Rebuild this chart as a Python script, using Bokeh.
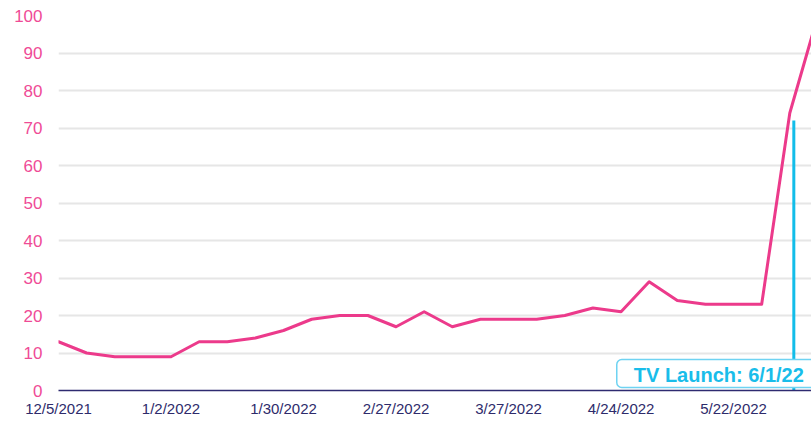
import pandas as pd
from bokeh.plotting import figure
from bokeh.models import Range1d, FixedTicker, Label, BoxAnnotation
from bokeh.embed import file_html
from bokeh.resources import INLINE

# ---- data ----
weeks = pd.date_range("2021-12-05", periods=28, freq="7D")
interest = [13, 10, 9, 9, 9, 13, 13, 14, 16, 19, 20, 20, 17, 21, 17, 19,
            19, 19, 20, 22, 21, 29, 24, 23, 23, 23, 74, 100]
tick_dates = ["2021-12-05", "2022-01-02", "2022-01-30", "2022-02-27",
              "2022-03-27", "2022-04-24", "2022-05-22"]
tick_labels = ["12/5/2021", "1/2/2022", "1/30/2022", "2/27/2022",
               "3/27/2022", "4/24/2022", "5/22/2022"]
y_ticks = [0, 10, 20, 30, 40, 50, 60, 70, 80, 90, 100]
launch_date = "2022-06-06"
launch_value = 72
launch_text = "TV Launch: 6/1/22"


def ms(d):
    return pd.Timestamp(d).value / 1e6


DAY = 86400000.0
x_start = ms(weeks[0])
x_end = x_start + 187.4 * DAY

p = figure(width=811, height=421, output_backend="svg", toolbar_location=None,
           x_axis_type="datetime",
           x_range=Range1d(x_start, x_end), y_range=Range1d(0, 100),
           min_border_left=58, min_border_right=0, min_border_top=15,
           min_border_bottom=31)
p.outline_line_color = None
p.background_fill_color = "white"
p.border_fill_color = "white"

p.line(x=weeks, y=interest, line_color="#ec3a8b", line_width=3,
       line_join="round", line_cap="round")

lx = ms(launch_date)
p.segment(x0=[lx], y0=[0], x1=[lx], y1=[launch_value],
          line_color="#12bde9", line_width=3)

# axes
xa = p.xaxis[0]
xa.ticker = FixedTicker(ticks=[ms(d) for d in tick_dates])
xa.major_label_overrides = {ms(d): lab for d, lab in zip(tick_dates, tick_labels)}
xa.major_tick_line_color = None
xa.minor_tick_line_color = None
xa.major_tick_out = 0
xa.major_tick_in = 0
xa.axis_label_standoff = 0
xa.axis_line_color = "#2e2b70"
xa.axis_line_width = 1.5
xa.major_label_text_color = "#2e2b6b"
xa.major_label_text_font = "Liberation Sans"
xa.major_label_text_font_size = "15px"
xa.major_label_standoff = 9

ya = p.yaxis[0]
ya.ticker = FixedTicker(ticks=y_ticks)
ya.axis_line_color = None
ya.major_tick_line_color = None
ya.minor_tick_line_color = None
ya.major_tick_out = 0
ya.major_tick_in = 0
ya.major_label_text_color = "#ef4b96"
ya.major_label_text_font = "Liberation Sans"
ya.major_label_text_font_size = "17px"
ya.major_label_standoff = 16

p.xgrid.grid_line_color = None
p.ygrid.grid_line_color = "#e6e6e6"
p.ygrid.grid_line_width = 2

# thin lavender rule at the left edge of the canvas
p.add_layout(BoxAnnotation(left=0, right=2, top=0, bottom=421,
                           left_units="canvas", right_units="canvas",
                           top_units="canvas", bottom_units="canvas",
                           fill_color="#cbc6e4", fill_alpha=1,
                           line_color=None, level="overlay"))

lab = Label(x=lx, y=0, x_offset=35, y_offset=3, text=launch_text,
            text_align="right", text_baseline="bottom",
            text_color="#19bdea", text_font="Liberation Sans",
            text_font_style="bold", text_font_size="20px",
            background_fill_color="white", border_line_color="#6fd3f2",
            border_line_width=1.5, border_radius=5,
            padding={"left": 17, "right": 25, "top": 4, "bottom": 2})
p.add_layout(lab)

open("out.html", "w").write(file_html(p, INLINE))
